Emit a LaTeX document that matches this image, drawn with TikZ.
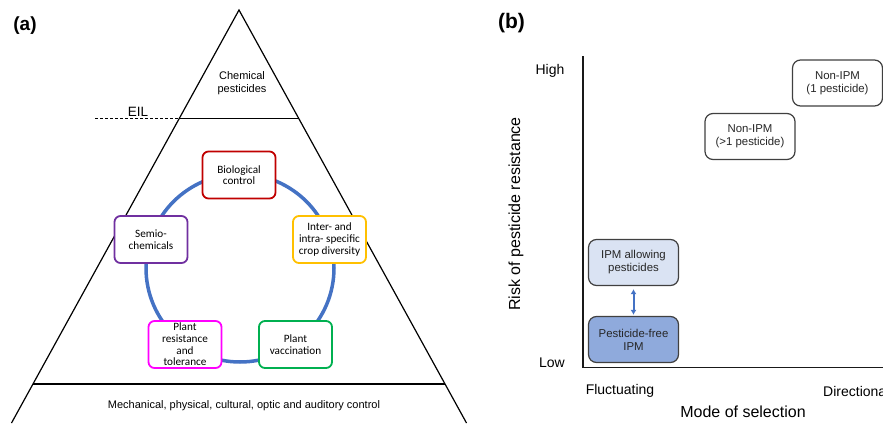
\documentclass[tikz,border=0pt]{standalone}
\usepackage{fontspec}
\setmainfont{Liberation Sans}
\newfontfamily\carl{Carlito}
\usetikzlibrary{arrows.meta}
\definecolor{cblue}{HTML}{4472C4}
\definecolor{cred}{HTML}{C00000}
\definecolor{cpurple}{HTML}{7030A0}
\definecolor{cyellow}{HTML}{FFC000}
\definecolor{cmagenta}{HTML}{FF00FF}
\definecolor{cgreen}{HTML}{00B050}
\definecolor{lightfill}{HTML}{DAE3F3}
\definecolor{darkfill}{HTML}{8FAADC}
\tikzset{
  cbox/.style={draw=#1, rounded corners=6pt, line width=1.8pt, fill=white,
    minimum width=73pt, minimum height=47pt, align=center, inner sep=1pt,
    font=\carl\fontsize{11.2}{11.6}\selectfont},
  gbox/.style={draw=black!75, rounded corners=8pt, line width=1.2pt, fill=#1,
    minimum width=90pt, minimum height=46pt, align=center, inner sep=1pt,
    text=black!85, font=\fontsize{11.4}{13}\selectfont},
  tline/.style={line width=1.2pt, black},
  lbl/.style={inner sep=0pt, font=\fontsize{11}{12.5}\selectfont, align=center},
  axlbl/.style={inner sep=0pt, font=\fontsize{14}{16}\selectfont},
  axtitle/.style={inner sep=0pt, font=\fontsize{16}{18}\selectfont},
  panel/.style={inner sep=0pt, font=\bfseries\fontsize{#1}{#1}\selectfont}
}
\begin{document}
\begin{tikzpicture}[x=1pt,y=-1pt]
\useasboundingbox (0,0) rectangle (883,423);
% ---------- panel (a) ----------
\node[panel=19] (pa) at (25,26) {(a)};
\coordinate (apex) at (239,10);
\coordinate (lb) at (11.5,423);
\coordinate (rb) at (466.5,423);
\draw[tline] (lb) -- (apex) -- (rb);
\coordinate (eilL) at (179.3,118.3);
\coordinate (eilR) at (298.7,118.3);
\coordinate (eilD) at (95,118.3);
\draw[tline] (eilL) -- (eilR);
\draw[line width=1pt, dash pattern=on 3pt off 2pt] (eilD) -- (eilL);
\node[inner sep=0pt, font=\fontsize{13.5}{14}\selectfont, anchor=base] (eil) at (138,116.5) {EIL};
\coordinate (botL) at (33,384);
\coordinate (botR) at (445,384);
\draw[tline] (botL) -- (botR);
\node[lbl] (chem) at (242,83) {Chemical\\pesticides};
\node[lbl] (mech) at (244,406) {Mechanical, physical, cultural, optic and auditory control};
% circle
\coordinate (cc) at (240,268);
\draw[cblue, line width=3.5pt] (cc) circle[radius=94pt];
\node[cbox=cred] (bio) at (239,175) {Biological\\control};
\node[cbox=cpurple] (semio) at (151,239.5) {Semio-\\chemicals};
\node[cbox=cyellow] (inter) at (329.5,239.5) {Inter- and\\intra- specific\\crop diversity};
\node[cbox=cmagenta] (res) at (185,344.5) {Plant\\resistance\\and\\tolerance};
\node[cbox=cgreen] (vac) at (295.5,344.5) {Plant\\vaccination};
% ---------- panel (b) ----------
\node[panel=21] (pb) at (511.5,23) {(b)};
\coordinate (ytop) at (582.7,56);
\coordinate (org) at (582.7,367.5);
\coordinate (xend) at (890,367.5);
\draw[line width=1.6pt, black!90] (ytop) -- (org) -- (xend);
\node[axlbl] (high) at (550,71) {High};
\node[axlbl] (low) at (552,363) {Low};
\node[axlbl] (fluct) at (620,391) {Fluctuating};
\node[axlbl, anchor=west] (dir) at (823,391) {Directional};
\node[axtitle] (mode) at (743,412) {Mode of selection};
\node[axtitle, rotate=90] (risk) at (516,214) {Risk of pesticide resistance};
\node[gbox=white] (non1) at (837.5,83) {Non-IPM\\(1 pesticide)};
\node[gbox=white] (non2) at (750,136.5) {Non-IPM\\(>1 pesticide)};
\node[gbox=lightfill] (ipma) at (633.5,262.5) {IPM allowing\\pesticides};
\node[gbox=darkfill] (ipmf) at (633.5,339.5) {Pesticide-free\\IPM};
\draw[cblue, line width=2pt, {Latex[length=5pt,width=6pt]}-{Latex[length=5pt,width=6pt]}, shorten <=3pt, shorten >=1pt] (ipma.south) -- (ipmf.north);
\end{tikzpicture}
\end{document}
